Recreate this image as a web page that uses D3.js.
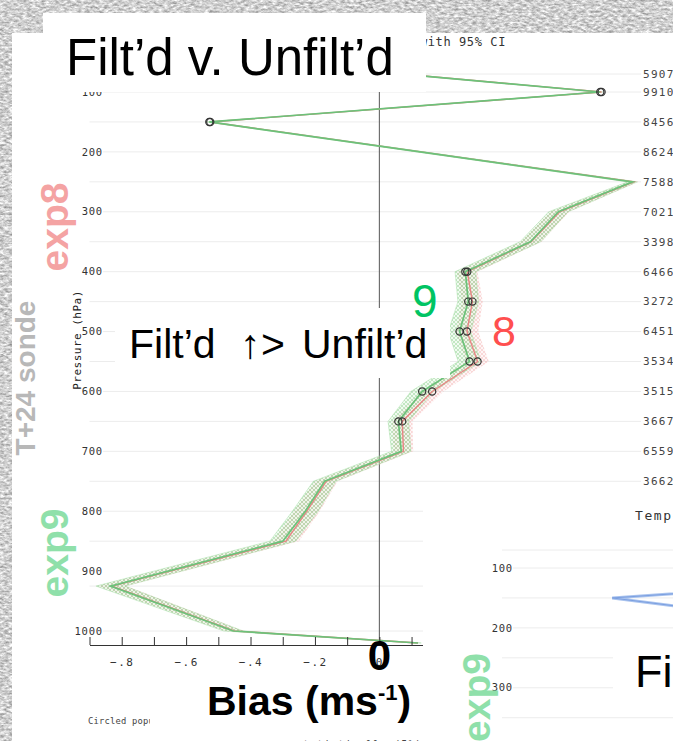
<!DOCTYPE html>
<html><head><meta charset="utf-8">
<script src="https://cdn.jsdelivr.net/npm/d3@7"></script>
<style>html,body{margin:0;padding:0;background:#d2d2d2;overflow:hidden}</style>
</head><body><script>
// ---------------- data ----------------
const levels    = [70, 100, 150, 200, 250, 300, 350, 400, 450, 500, 550, 600, 650, 700, 750, 800, 850, 925, 1000, 1020];
const exp9Bias  = [0.07, 0.686, -0.528, 0.127, 0.786, 0.556, 0.469, 0.267, 0.276, 0.249, 0.280, 0.133, 0.059, 0.068, -0.170, -0.230, -0.300, -0.835, -0.453, 0.12];
const exp8Bias  = [0.07, 0.690, -0.525, 0.130, 0.790, 0.560, 0.472, 0.273, 0.289, 0.272, 0.305, 0.164, 0.071, 0.075, -0.165, -0.225, -0.290, -0.830, -0.450, 0.12];
const exp9CI    = [0.006, 0.008, 0.010, 0.012, 0.015, 0.030, 0.032, 0.032, 0.032, 0.035, 0.035, 0.035, 0.032, 0.030, 0.035, 0.040, 0.040, 0.045, 0.030, 0.010];
const exp8CI    = [0.006, 0.008, 0.010, 0.012, 0.015, 0.030, 0.032, 0.032, 0.032, 0.035, 0.035, 0.035, 0.032, 0.030, 0.035, 0.040, 0.040, 0.045, 0.030, 0.010];
const significant = [0, 1, 1, 0, 0, 0, 0, 1, 1, 1, 1, 1, 1, 0, 0, 0, 0, 0, 0, 0];
const gridLevels  = [70, 100, 150, 200, 250, 300, 350, 400, 450, 500, 550, 600, 650, 700, 750, 800, 850, 925, 1000];
const countLevels = [70, 100, 150, 200, 250, 300, 350, 400, 450, 500, 550, 600, 650, 700, 750];
const counts      = ["5907", "9910", "8456", "8624", "7588", "7021", "3398", "6466", "3272", "6451", "3534", "3515", "3667", "6559", "3662"];
const pressureTicks = [100, 200, 300, 400, 500, 600, 700, 800, 900, 1000];
const biasTicks     = [-0.9, -0.8, -0.7, -0.6, -0.5, -0.4, -0.3, -0.2, -0.1, 0, 0.1, 0.2, 0.3, 0.4, 0.5, 0.6, 0.7, 0.8];
const biasLabelled  = [-0.8, -0.6, -0.4, -0.2, 0, 0.2, 0.4, 0.6, 0.8];
// second (partly hidden) temperature panel
const tempLevels    = [100, 150, 200];
const tempBias      = [0.82, -0.55, 0.18];
const tempGrid      = [70, 100, 150, 200, 250, 300, 350];
const tempTicks     = [100, 200, 300];

const W = 673, H = 741;
const SANS = "'Liberation Sans', Arial, Helvetica, sans-serif";
const MONO = "'DejaVu Sans Mono', 'Liberation Mono', monospace";

const svg = d3.select("body").append("svg").attr("width", W).attr("height", H);
const defs = svg.append("defs");

// textured grey background
const f = defs.append("filter").attr("id", "tex").attr("x", 0).attr("y", 0).attr("width", 1).attr("height", 1)
  .attr("color-interpolation-filters", "sRGB");
f.append("feTurbulence").attr("type", "fractalNoise").attr("baseFrequency", "0.22 0.45").attr("numOctaves", 3).attr("seed", 7);
f.append("feColorMatrix").attr("type", "matrix")
  .attr("values", "0.65 0 0 0 0.49  0.65 0 0 0 0.49  0.65 0 0 0 0.49  0 0 0 0 1");

function hatch(id, col, bg) {
  const p = defs.append("pattern").attr("id", id).attr("width", 4).attr("height", 4).attr("patternUnits", "userSpaceOnUse");
  p.append("rect").attr("width", 4).attr("height", 4).attr("fill", bg);
  p.append("path").attr("d", "M0,4L4,0M-1,1L1,-1M3,5L5,3M0,0L4,4M-1,3L1,5M3,-1L5,1").attr("stroke", col).attr("stroke-width", 0.7);
}
hatch("hatchG", "rgba(120,200,120,0.55)", "rgba(200,240,200,0.25)");
hatch("hatchR", "rgba(240,150,150,0.45)", "rgba(250,210,210,0.2)");

svg.append("rect").attr("width", W).attr("height", H).attr("fill", "#d0d0d0").attr("filter", "url(#tex)");

// main white panel
svg.append("rect").attr("x", 12).attr("y", 33).attr("width", W - 12).attr("height", H - 33).attr("fill", "#fff");

// ---------------- scales ----------------
const x = d3.scaleLinear().domain([-0.9, 0.8]).range([89.5, 637]);
const y = d3.scaleLinear().domain([100, 1000]).range([92, 631]);
const g = svg.append("g");

// grid
g.selectAll(".grid").data(gridLevels).join("line")
  .attr("x1", x(-0.9)).attr("x2", 641).attr("y1", d => y(d)).attr("y2", d => y(d))
  .attr("stroke", "#ececec").attr("stroke-width", 1);

// zero line
g.append("line").attr("x1", x(0)).attr("x2", x(0)).attr("y1", y(60)).attr("y2", 645)
  .attr("stroke", "#555").attr("stroke-width", 1);

// CI bands
const data = levels.map((p, i) => ({ p, e9: exp9Bias[i], e8: exp8Bias[i], c9: exp9CI[i], c8: exp8CI[i], s: significant[i] }));
const areaOf = (v, c) => d3.area().y(d => y(d.p)).x0(d => x(d[v] - d[c])).x1(d => x(d[v] + d[c]));
g.append("path").datum(data).attr("d", areaOf("e8", "c8")).attr("fill", "url(#hatchR)");
g.append("path").datum(data).attr("d", areaOf("e9", "c9")).attr("fill", "url(#hatchG)");
g.append("path").datum(data).attr("d", areaOf("e9", "c9")).attr("fill", "none").attr("stroke", "rgba(150,215,150,0.5)").attr("stroke-width", 0.8);

const lineOf = v => d3.line().y(d => y(d.p)).x(d => x(d[v]));
g.append("path").datum(data).attr("d", lineOf("e8")).attr("fill", "none").attr("stroke", "#e98585").attr("stroke-width", 1.4);
g.append("path").datum(data).attr("d", lineOf("e9")).attr("fill", "none").attr("stroke", "#6cc27a").attr("stroke-width", 1.7);

// significance circles
const sig = data.filter(d => d.s);
["e9", "e8"].forEach(v => {
  g.selectAll(".c" + v).data(sig).join("circle")
    .attr("cx", d => x(d[v])).attr("cy", d => y(d.p)).attr("r", 3.6)
    .attr("fill", "none").attr("stroke", "#333").attr("stroke-width", 1.2);
});

// y tick labels
g.selectAll(".yl").data(pressureTicks).join("text")
  .attr("x", 103).attr("y", d => y(d)).attr("dy", "0.35em").attr("text-anchor", "end")
  .attr("font-family", MONO).attr("font-size", 10.5).attr("letter-spacing", 0.8).attr("fill", "#333")
  .attr("stroke", "#fff").attr("stroke-width", 3).attr("paint-order", "stroke")
  .text(d => d);

// right count labels
g.selectAll(".cl").data(countLevels).join("text")
  .attr("x", 643).attr("y", (d) => y(d)).attr("dy", "0.35em")
  .attr("font-family", MONO).attr("font-size", 11).attr("letter-spacing", 1.3).attr("fill", "#444")
  .text((d, i) => counts[i]);

// x axis
const xAxis = d3.axisBottom(x).tickValues(biasTicks).tickSize(-8).tickSizeOuter(0).tickPadding(13)
  .tickFormat(d => biasLabelled.some(b => Math.abs(b - d) < 1e-9) ? (d === 0 ? "0" : d3.format(".1f")(d).replace("0.", ".")) : "");
const ax = g.append("g").attr("transform", "translate(0,645)").call(xAxis);
ax.select(".domain").attr("stroke", "#333");
ax.selectAll(".tick line").attr("stroke", "#333");
ax.selectAll(".tick text").attr("font-family", MONO).attr("font-size", 11).attr("letter-spacing", 1.5).attr("fill", "#333");

// pressure axis title
g.append("text").attr("transform", `translate(81,340) rotate(-90)`).attr("text-anchor", "middle")
  .attr("font-family", MONO).attr("font-size", 11).attr("letter-spacing", 0.5).attr("fill", "#222").text("Pressure (hPa)");

// subtitle (mostly hidden by the title box)
g.append("text").attr("x", 506).attr("y", 46).attr("text-anchor", "end")
  .attr("font-family", MONO).attr("font-size", 12).attr("letter-spacing", 0.6).attr("fill", "#333")
  .text("Wind bias with 95% CI");

// notes at the bottom
g.append("text").attr("x", 88).attr("y", 724).attr("font-family", MONO).attr("font-size", 8.8).attr("letter-spacing", 0.2).attr("fill", "#444")
  .text("Circled populations differ");
g.append("text").attr("x", 296).attr("y", 748).attr("font-family", MONO).attr("font-size", 10).attr("letter-spacing", 1).attr("fill", "#444")
  .text("statistically (5%)");

// side labels
const rot = (tx, ty, txt, size, col, weight) => svg.append("text")
  .attr("transform", `translate(${tx},${ty}) rotate(-90)`).attr("text-anchor", "middle")
  .attr("font-family", SANS).attr("font-weight", weight).attr("font-size", size).attr("fill", col).text(txt);
rot(35, 378, "T+24 sonde", 28, "#b8b8b8", "bold");
rot(68, 227, "exp8", 39, "#f4a3a3", "bold");
rot(68, 553, "exp9", 39, "#8fe0aa", "bold");

// ---------------- second panel (bottom right, partly visible) ----------------
const p2 = svg.append("g");
p2.append("rect").attr("x", 423).attr("y", 495).attr("width", W - 423).attr("height", H - 495).attr("fill", "#fff");
const y2 = d3.scaleLinear().domain([100, 1000]).range([568, 1107]);
const x2 = d3.scaleLinear().domain([-0.9, 0.8]).range([499.5, 1047]);
p2.selectAll(".g2").data(tempGrid).join("line")
  .attr("x1", 502).attr("x2", W).attr("y1", d => y2(d)).attr("y2", d => y2(d))
  .attr("stroke", "#ececec").attr("stroke-width", 1);
p2.selectAll(".t2").data(tempTicks).join("text")
  .attr("x", 513).attr("y", d => y2(d)).attr("dy", "0.35em").attr("text-anchor", "end")
  .attr("font-family", MONO).attr("font-size", 10.5).attr("letter-spacing", 0.8).attr("fill", "#333")
  .attr("stroke", "#fff").attr("stroke-width", 3).attr("paint-order", "stroke").text(d => d);
p2.append("text").attr("x", 635).attr("y", 520).attr("font-family", MONO).attr("font-size", 13)
  .attr("letter-spacing", 1.6).attr("fill", "#333").text("Temperature bias");
const tdata = tempLevels.map((p, i) => ({ p, v: tempBias[i] }));
p2.append("path").datum(tdata).attr("d", d3.line().y(d => y2(d.p)).x(d => x2(d.v)))
  .attr("fill", "none").attr("stroke", "#a9c3ee").attr("stroke-width", 3);
p2.append("path").datum(tdata).attr("d", d3.line().y(d => y2(d.p)).x(d => x2(d.v)))
  .attr("fill", "none").attr("stroke", "#7b9fe0").attr("stroke-width", 1);
p2.append("text").attr("transform", "translate(490,653) rotate(-90)").attr("text-anchor", "end")
  .attr("font-family", SANS).attr("font-weight", "bold").attr("font-size", 39).attr("fill", "#8fe0aa").text("exp9");
p2.append("rect").attr("x", 613).attr("y", 645).attr("width", W - 613).attr("height", 60).attr("fill", "#fff");
p2.append("text").attr("x", 635).attr("y", 687).attr("font-family", SANS).attr("font-size", 45).attr("fill", "#000")
  .text("Filt\u2019d v. Unfilt\u2019d");

// ---------------- annotation boxes ----------------
svg.append("rect").attr("x", 43).attr("y", 13).attr("width", 383).attr("height", 79).attr("fill", "#fff");
svg.append("text").attr("x", 66).attr("y", 75).attr("font-family", SANS).attr("font-size", 51).attr("fill", "#000")
  .text("Filt\u2019d v. Unfilt\u2019d");

svg.append("rect").attr("x", 115).attr("y", 308).attr("width", 335).attr("height", 70).attr("fill", "#fff");
const t2 = svg.append("text").attr("y", 358).attr("font-family", SANS).attr("font-size", 41).attr("fill", "#000");
t2.append("tspan").attr("x", 129).text("Filt\u2019d");
t2.append("tspan").attr("x", 240).text("\u2191");
t2.append("tspan").attr("x", 261).text(">");
t2.append("tspan").attr("x", 302).text("Unfilt\u2019d");

svg.append("text").attr("x", 412).attr("y", 317).attr("font-family", SANS).attr("font-size", 46).attr("fill", "#00c463").text("9");
svg.append("text").attr("x", 492).attr("y", 346).attr("font-family", SANS).attr("font-size", 43).attr("fill", "#ff4f4f").text("8");

svg.append("text").attr("x", x(0)).attr("y", 670).attr("text-anchor", "middle").attr("font-family", SANS)
  .attr("font-weight", "bold").attr("font-size", 42).attr("fill", "#000").text("0");

svg.append("rect").attr("x", 150).attr("y", 678).attr("width", 275).attr("height", 56).attr("fill", "#fff");
const bt = svg.append("text").attr("x", 207).attr("y", 715).attr("font-family", SANS).attr("font-weight", "bold")
  .attr("font-size", 41).attr("fill", "#000");
bt.append("tspan").text("Bias (ms");
bt.append("tspan").attr("font-size", 22).attr("dy", -15).text("-1");
bt.append("tspan").attr("dy", 15).text(")");
</script></body></html>
